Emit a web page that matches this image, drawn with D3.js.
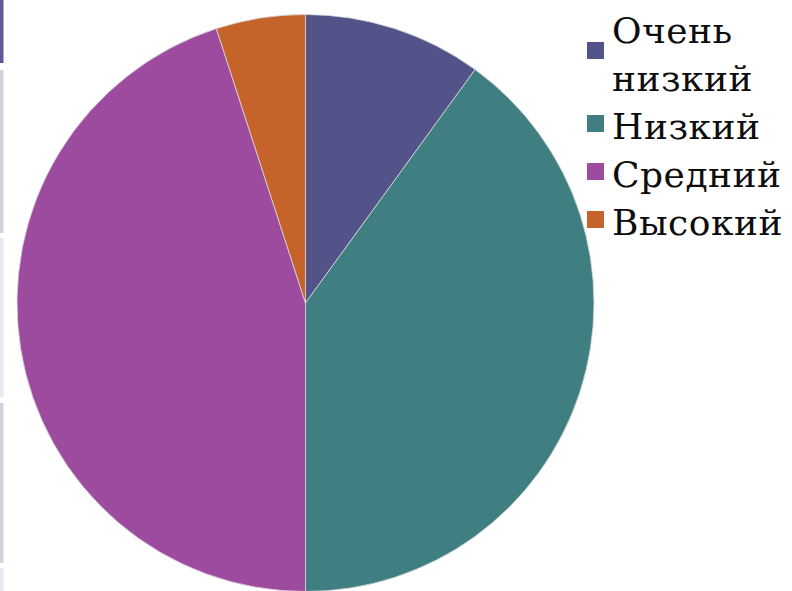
<!DOCTYPE html>
<html>
  <head>
    <meta charset="utf-8">
    <title>Уровни</title>
    <script src="https://d3js.org/d3.v7.min.js"></script>
    <style>
      body { margin: 0; background: #fff; overflow: hidden; }
      #chart { display: block; }
      .label { font-family: "DejaVu Serif", serif; font-size: 36px; letter-spacing: 0.5px; fill: #0d0d0d; }
    </style>
  </head>
  <body>
    <svg id="chart" width="792" height="591">
      <g id="sideGroup"></g>
      <g id="pieGroup"></g>
      <g id="legendGroup"></g>
    </svg>
    <script>
      // data
      categories = ["Очень низкий", "Низкий", "Средний", "Высокий"];
      values = [10, 40, 45, 5];
      colours = ["#525388", "#3f7f81", "#9c4b9f", "#c5632b"];
      // legend lines (first label wraps in two)
      legendLines = [["Очень", "низкий"], ["Низкий"], ["Средний"], ["Высокий"]];

      chart = d3.select("#chart");
      pieGroup = d3.select("#pieGroup").attr("transform", "translate(305.5,303)");

      // strips at the left edge of the slide
      strips = [
        { y: 0, h: 63, c: "#5b5b97" },
        { y: 70, h: 163, c: "#d3d3de" },
        { y: 238, h: 159, c: "#e8e8ee" },
        { y: 403, h: 160, c: "#d3d3de" },
        { y: 568, h: 23, c: "#e8e8ee" }
      ];
      d3.select("#sideGroup").selectAll("rect")
        .data(strips)
        .enter().append("rect")
          .attr("x", 0)
          .attr("y", function(d) { return d.y; })
          .attr("width", 3.5)
          .attr("height", function(d) { return d.h; })
          .attr("fill", function(d) { return d.c; });

      colour = d3.scaleOrdinal().domain(categories).range(colours);
      pie = d3.pie().sort(null).value(function(d, i) { return values[i]; });
      arc = d3.arc().innerRadius(0).outerRadius(288.5);

      pieGroup.selectAll("path")
        .data(pie(categories))
        .enter().append("path")
          .attr("d", arc)
          .attr("fill", function(d) { return colour(d.data); })
          .attr("stroke", "#d8d8d8")
          .attr("stroke-width", 0.8);

      // legend
      rowY = d3.scaleLinear().domain([0, 1]).range([43, 91]);
      row = 0;
      legend = d3.select("#legendGroup");
      legendLines.forEach(function(lines, i) {
        var first = row;
        lines.forEach(function(t) {
          legend.append("text")
            .classed("label", true)
            .attr("x", 612)
            .attr("y", rowY(row))
            .text(t);
          row++;
        });
        // wrapped label: marker sits between its two lines
        var top = lines.length > 1 ? rowY(first) - 1 : rowY(first) - 24;
        legend.append("rect")
          .attr("x", 587)
          .attr("y", top)
          .attr("width", 17)
          .attr("height", 17)
          .attr("fill", colour(categories[i]));
      });
    </script>
  </body>
</html>
